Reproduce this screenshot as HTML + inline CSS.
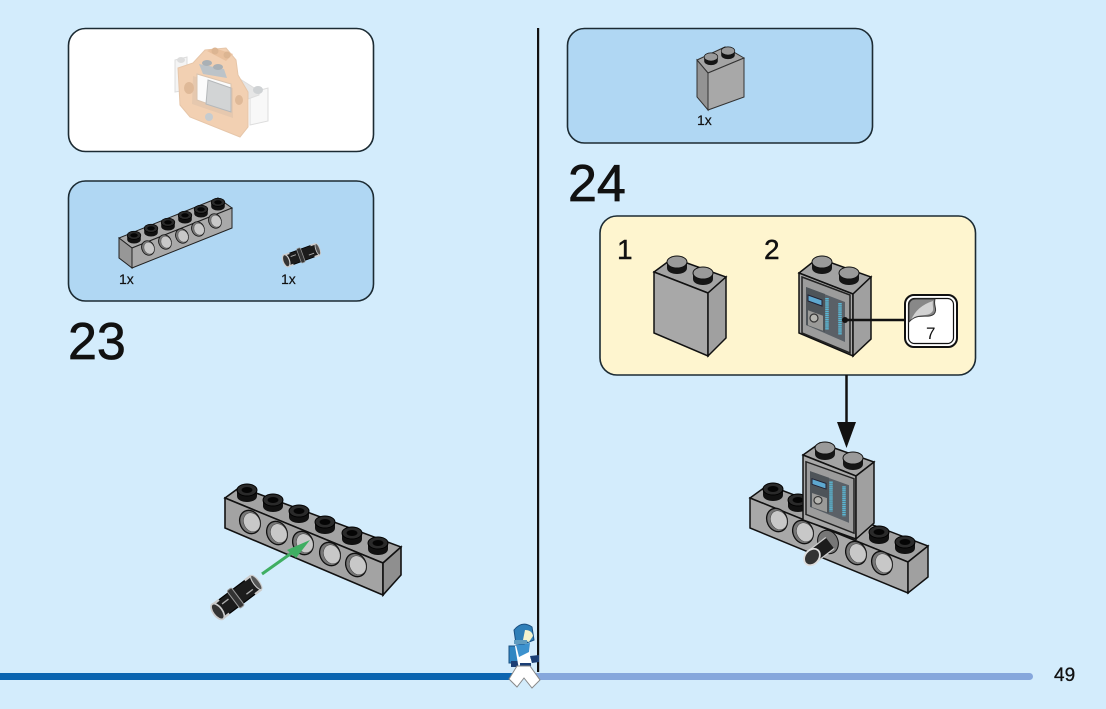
<!DOCTYPE html>
<html><head><meta charset="utf-8"><style>
html,body{margin:0;padding:0;width:1106px;height:709px;overflow:hidden;background:#d3ecfc}
svg{display:block}
text{font-family:"Liberation Sans",sans-serif;fill:#111}
</style></head><body>
<svg width="1106" height="709" viewBox="0 0 1106 709" xmlns="http://www.w3.org/2000/svg">
<defs>
<g id="stud"><path d="M-10 -4V2C-10 6-5 8 0 8S10 6 10 2V-4Z" fill="#111"/><ellipse cx="0" cy="-4" rx="10" ry="6" fill="#2a2a2a" stroke="#000"/><ellipse cx="0" cy="-4" rx="5.500" ry="3" fill="#050505"/></g>
<g id="hole"><ellipse cx="0" cy="0" rx="10" ry="12" transform="rotate(-25)" fill="#777" stroke="#111" stroke-width="1.300"/><ellipse cx="1.500" cy="1" rx="8" ry="9.800" transform="rotate(-25)" fill="#c8c8c8" stroke="#444" stroke-width=".5"/></g>
<g id="gstud"><path d="M-10 -3V3C-10 7-5 9 0 9S10 7 10 3V-3Z" fill="#151515"/><ellipse cx="0" cy="-3" rx="10" ry="6" fill="#9a9a9a" stroke="#111"/></g>
<g id="sticker">
<path d="M3 4L51 22V80L3 60Z" fill="#9c9c9c" stroke="#222" stroke-width="1.500"/>
<path d="M7 14L46 29V69L7 52Z" fill="#5a6067"/>
<path d="M7 14L26 21V59L7 52Z" fill="#4e5459"/>
<path d="M9 22L23 27V33L9 28Z" fill="#5ea8d0" stroke="#223" stroke-width="1"/>
<rect x="9" y="38" width="15" height="15" transform="skewY(20) translate(0 -4)" fill="#9a9a98"/>
<circle cx="15" cy="45" r="4" fill="#b5b5b0" stroke="#333" stroke-width="1.200"/>
<path d="M28 25V57" stroke="#5ab8d6" stroke-width="3.500" stroke-dasharray="1.500 .6" fill="none"/>
<path d="M41 30V62" stroke="#5ab8d6" stroke-width="3.500" stroke-dasharray="1.500 .6" fill="none"/>
</g>
<g id="pin">
<rect x="-21" y="-7.500" width="42" height="15" rx="2" fill="#1c1c1c" stroke="#000"/>
<rect x="-4" y="-9.500" width="5" height="19" rx="1.500" fill="#333" stroke="#999" stroke-width=".9"/>
<path d="M-21 -7.500H-14M-21 7.500H-14M14 -7.500H21M14 7.500H21" stroke="#ccc" stroke-width="2"/>
<ellipse cx="-21" cy="0" rx="4" ry="8" fill="#333" stroke="#ccc" stroke-width="1.500"/>
<ellipse cx="21" cy="0" rx="2.500" ry="7.500" fill="#555" stroke="#ccc" stroke-width="1"/>
<path d="M-14 -3H-7M8 3H15" stroke="#aaa" stroke-width="1.200"/>
</g>
</defs>

<!-- panels -->
<rect x="68.500" y="28.500" width="305" height="123" rx="17" fill="#fff" stroke="#1c2b33" stroke-width="1.600"/>
<rect x="68.500" y="181" width="305" height="120" rx="17" fill="#b0d7f3" stroke="#1c2b33" stroke-width="1.600"/>
<rect x="567.500" y="28.500" width="305" height="114.500" rx="17" fill="#b0d7f3" stroke="#1c2b33" stroke-width="1.600"/>
<rect x="600" y="216" width="375.500" height="159" rx="17" fill="#fef5cf" stroke="#1c2b33" stroke-width="1.600"/>

<!-- ghost preview -->
<g>
<path d="M175 60L187 57V90L175 92Z" fill="#f4f4f4" stroke="#ddd"/>
<path d="M250 93L268 88V121L250 125Z" fill="#f8f8f8" stroke="#ddd"/>
<path d="M240 79L259 91V95L248 99Z" fill="#e6e6e6" stroke="#ddd"/>
<ellipse cx="258" cy="90" rx="5" ry="4" fill="#cfd2d4"/>
<ellipse cx="181" cy="60" rx="4" ry="3" fill="#ddd"/>
<path d="M178 68L193 63L205 50L226 48L236 60L238 75L248 92L248 127L240 137L190 117L180 105Z" fill="#f2d0b2" stroke="#e6c6a9"/>
<path d="M207 51L214 48L233 54L226 61Z" fill="#e9c09d"/>
<circle cx="215" cy="51" r="3.500" fill="#dcb592"/>
<circle cx="227" cy="55" r="3.500" fill="#dcb592"/>
<path d="M193 76L233 88V118L192 104Z" fill="#e6c8ae"/>
<path d="M197 74L231 84V112L197 100Z" fill="#fbfbfb" stroke="#d9c3ae"/>
<path d="M208 80L231 88V112L206 104Z" fill="#d2d4d5" stroke="#b5b8ba"/>
<path d="M199 64L224 69L227 78L203 74Z" fill="#bcc3c8"/>
<ellipse cx="207" cy="63" rx="5" ry="3" fill="#a9b0b5"/>
<ellipse cx="218" cy="67" rx="5" ry="3" fill="#a9b0b5"/>
<ellipse cx="189" cy="88" rx="5" ry="6" fill="#dfb998"/>
<ellipse cx="209" cy="117" rx="4" ry="4" fill="#c6ccd0"/>
<ellipse cx="239" cy="100" rx="4" ry="5" fill="#dfb998"/>
</g>

<!-- small beam -->
<path d="M119 238L218 198L232 208L132 248Z" fill="#a9a9a9" stroke="#222" stroke-width="1"/>
<path d="M132 248L232 208V228L132 268Z" fill="#a9a9a9" stroke="#222" stroke-width="1"/>
<path d="M119 238L132 248V268L119 258Z" fill="#979797" stroke="#222" stroke-width="1"/>
<use href="#stud" transform="translate(134 238) scale(.68)"/><use href="#stud" transform="translate(151 231) scale(.68)"/><use href="#stud" transform="translate(168 225) scale(.68)"/><use href="#stud" transform="translate(185 218) scale(.68)"/><use href="#stud" transform="translate(201 212) scale(.68)"/><use href="#stud" transform="translate(218 205) scale(.68)"/>
<use href="#hole" transform="translate(148 248) scale(.62)"/><use href="#hole" transform="translate(165 242) scale(.62)"/><use href="#hole" transform="translate(182 236) scale(.62)"/><use href="#hole" transform="translate(198 229) scale(.62)"/><use href="#hole" transform="translate(215 221) scale(.62)"/>
<use href="#pin" transform="translate(302 255) rotate(-20) scale(.8)"/>
<text x="119" y="284" font-size="14" stroke="#111" stroke-width=".2">1x</text>
<text x="281" y="284" font-size="14" stroke="#111" stroke-width=".2">1x</text>

<text x="68" y="359" font-size="52" stroke="#111" stroke-width=".7">23</text>
<text x="568" y="201" font-size="52" stroke="#111" stroke-width=".7">24</text>
<text x="617" y="259" font-size="28" stroke="#111" stroke-width=".4">1</text>
<text x="764" y="259" font-size="28" stroke="#111" stroke-width=".4">2</text>

<!-- step 23 beam -->
<path d="M225 498L240 487L401 547L383 563Z" fill="#a3a3a3" stroke="#111" stroke-width="1.600"/>
<path d="M225 498L383 563V595L225 528Z" fill="#a3a3a3" stroke="#111" stroke-width="1.600"/>
<path d="M383 563L401 547V575L383 595Z" fill="#8f8f8f" stroke="#111" stroke-width="1.600"/>
<use href="#stud" transform="translate(247 494)"/><use href="#stud" transform="translate(273 504)"/><use href="#stud" transform="translate(299 515)"/><use href="#stud" transform="translate(325 526)"/><use href="#stud" transform="translate(352 537)"/><use href="#stud" transform="translate(378 547)"/>
<use href="#hole" transform="translate(250 522)"/><use href="#hole" transform="translate(277 533)"/><use href="#hole" transform="translate(303 543)"/><use href="#hole" transform="translate(330 554)"/><use href="#hole" transform="translate(356 565)"/>
<path d="M262 574L293 552" stroke="#3fae62" stroke-width="3"/>
<path d="M287 550L310 540L296 558Z" fill="#3fae62"/>
<use href="#pin" transform="translate(237 597) rotate(-37) scale(1.150)"/>

<!-- top brick -->
<path d="M697 60L725 47L744 58L708 73Z" fill="#a4a4a4" stroke="#333"/>
<path d="M708 73L744 58V97L708 110Z" fill="#a8a8a8" stroke="#333"/>
<path d="M697 60L708 73V110L697 97Z" fill="#939393" stroke="#333"/>
<use href="#gstud" transform="translate(711 59) scale(.68)"/><use href="#gstud" transform="translate(728 53) scale(.68)"/>
<text x="697" y="125" font-size="14" stroke="#111" stroke-width=".2">1x</text>

<!-- brick 1 -->
<path d="M654 272L673 258L726 277L708 293Z" fill="#a3a3a3" stroke="#111" stroke-width="1.500"/>
<path d="M654 272L708 293V356L654 333Z" fill="#a8a8a8" stroke="#111" stroke-width="1.500"/>
<path d="M708 293L726 277V338L708 356Z" fill="#a0a0a0" stroke="#111" stroke-width="1.500"/>
<use href="#gstud" transform="translate(677 265)"/><use href="#gstud" transform="translate(703 276)"/>

<!-- brick 2 -->
<path d="M799 273L818 258L871 277L853 294Z" fill="#a3a3a3" stroke="#111" stroke-width="1.500"/>
<path d="M799 273L853 294V356L799 333Z" fill="#a8a8a8" stroke="#111" stroke-width="1.500"/>
<path d="M853 294L871 277V339L853 356Z" fill="#a0a0a0" stroke="#111" stroke-width="1.500"/>
<use href="#gstud" transform="translate(822 265)"/><use href="#gstud" transform="translate(849 276)"/>
<use href="#sticker" transform="translate(799 273)"/>
<path d="M845 320H906" stroke="#111" stroke-width="2.500"/>
<circle cx="845" cy="320" r="3" fill="#111"/>
<rect x="905" y="295" width="52" height="52" rx="9" fill="#fff" stroke="#111" stroke-width="2"/>
<rect x="908.500" y="298.500" width="45" height="45" rx="6" fill="#fff" stroke="#111" stroke-width="1.200"/>
<path d="M909 322V306Q909 299 916 299H935C933 306 938 309 934 314C929 319 917 312 909 322Z" fill="#888" stroke="#333"/>
<path d="M911 320Q917 306 933 301C932 307 935 310 931 313C926 317 917 313 911 320Z" fill="#d2d2d2"/>
<text x="926" y="339" font-size="17">7</text>

<!-- arrow -->
<path d="M846.500 375V425" stroke="#111" stroke-width="2.500"/>
<path d="M837 422H856L846.500 448Z" fill="#111"/>

<!-- assembly -->
<path d="M750 498L768 485L928 546L908 562Z" fill="#a3a3a3" stroke="#111" stroke-width="1.500"/>
<path d="M750 498L908 562V593L750 528Z" fill="#a8a8a8" stroke="#111" stroke-width="1.500"/>
<path d="M908 562L928 546V577L908 593Z" fill="#a0a0a0" stroke="#111" stroke-width="1.500"/>
<use href="#stud" transform="translate(773 493)"/><use href="#stud" transform="translate(798 504)"/><use href="#stud" transform="translate(879 536)"/><use href="#stud" transform="translate(905 546)"/>
<use href="#hole" transform="translate(777 520)"/><use href="#hole" transform="translate(803 532)"/><use href="#hole" transform="translate(856 553)"/><use href="#hole" transform="translate(882 563)"/>
<path d="M803 455L820 443L874 462L856 476Z" fill="#a3a3a3" stroke="#111" stroke-width="1.500"/>
<path d="M803 455L856 476V539L803 520Z" fill="#a8a8a8" stroke="#111" stroke-width="1.500"/>
<path d="M856 476L874 462V523L856 539Z" fill="#a0a0a0" stroke="#111" stroke-width="1.500"/>
<use href="#gstud" transform="translate(825 451)"/><use href="#gstud" transform="translate(853 461)"/>
<use href="#sticker" transform="translate(803 458) scale(1 .94)"/>
<ellipse cx="828" cy="542" rx="10" ry="12" transform="rotate(-25 828 542)" fill="#777" stroke="#111"/>
<path d="M813 556L830 543" stroke="#ccc" stroke-width="15"/>
<path d="M813 556L830 543" stroke="#1c1c1c" stroke-width="12.500"/>
<ellipse cx="812" cy="557" rx="7" ry="9" transform="rotate(40 812 557)" fill="#333" stroke="#ddd" stroke-width="1.800"/>

<!-- divider and footer -->
<rect x="537" y="28" width="2.200" height="644" fill="#111"/>
<rect x="0" y="673" width="520" height="7" fill="#0b65b0"/>
<rect x="530" y="673" width="503" height="7" rx="3.500" fill="#86a7dc"/>
<text x="1054" y="681" font-size="19" stroke="#111" stroke-width=".3">49</text>

<!-- minifig -->
<g>
<path d="M509 646H520V663H509Z" fill="#2f86c2" stroke="#1a4f80"/>
<path d="M511 661H518V667H511Z" fill="#1c3f75"/>
<path d="M515 646L530 644V664H518Z" fill="#fff"/>
<path d="M516 645L530 643L529 652L519 657Z" fill="#3d92ce"/>
<path d="M530 656L539 655V662L532 663Z" fill="#1c3f75"/>
<path d="M519 659H531V666H519Z" fill="#fff"/>
<path d="M520 663H531V666H520Z" fill="#1c3f75"/>
<path d="M517 666L509 679L517 687L524 678L532 688L540 680L530 666Z" fill="#fff" stroke="#888"/>
<path d="M514 630Q522 620 532 627L534 640L524 644H516Z" fill="#2f7fb8" stroke="#1a4f80"/>
<path d="M525 630Q532 630 533 636L529 642L523 640Z" fill="#f4f3cc"/>
<rect x="514" y="640" width="13" height="4" fill="#5f9cc0"/>
</g>
</svg>
</body></html>
